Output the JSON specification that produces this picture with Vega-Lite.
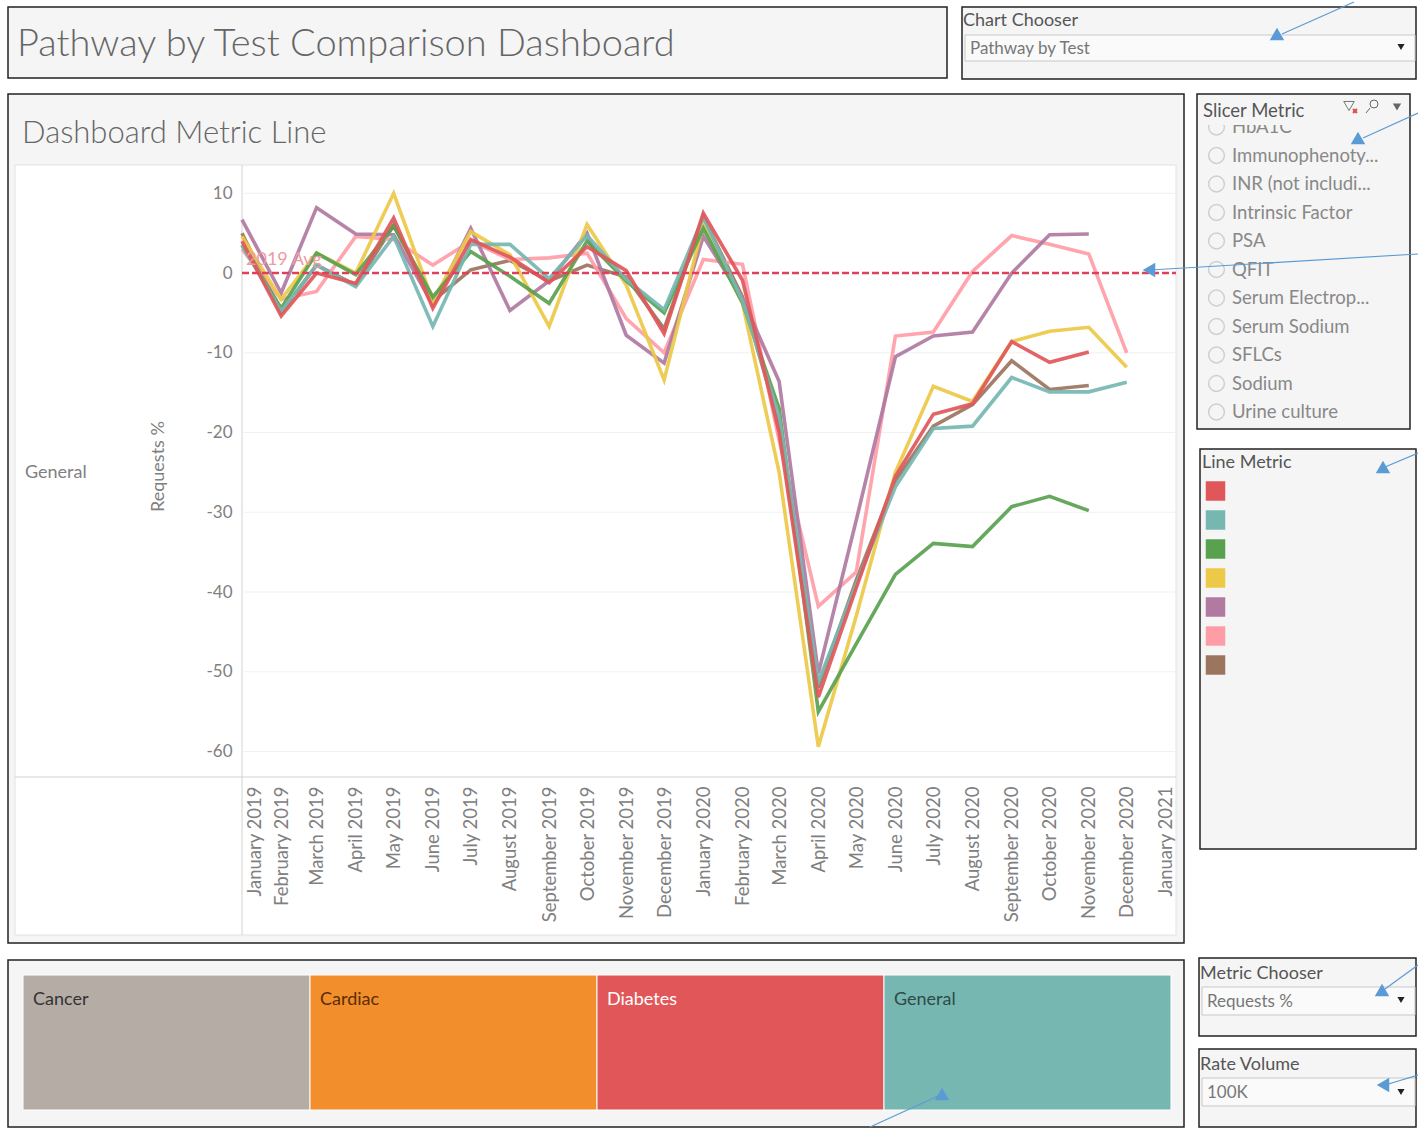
{
"$schema":"https://vega.github.io/schema/vega-lite/v6.json",
"padding":{"left":7,"top":0,"right":0,"bottom":0},
"background":"white",
"config":{"font":"Lato","text":{"align":"left","color":"#666666"},"view":{"fill":"#f5f5f5","stroke":"#222222","strokeWidth":1.5}},
"spacing":13,
"vconcat":[
{"spacing":13,"hconcat":[
 {"width":939,"height":71,"data":{"values":[{"label":"Pathway by Test Comparison Dashboard"}]},
  "mark":{"type":"text","fontSize":38,"fontWeight":300,"color":"#666666"},
  "encoding":{"x":{"datum":9,"axis":null,"scale":{"domain":[0,939],"nice":false}},"y":{"datum":38,"axis":null,"scale":{"domain":[71,0],"nice":false}},"text":{"field":"label"}}},
 {"width":454,"height":72,"data":{"values":[{}]},"layer":[
  {"mark":{"type":"rect","fill":"#fafafa","stroke":"#c8c8c8"},"encoding":{"x":{"datum":3,"axis":null,"scale":{"domain":[0,454],"nice":false}},"x2":{"datum":453},"y":{"datum":28,"axis":null,"scale":{"domain":[72,0],"nice":false}},"y2":{"datum":54}}},
  {"data":{"values":[{"label":"Chart Chooser"}]},"mark":{"type":"text","fontSize":18,"color":"#555555"},"encoding":{"x":{"datum":1,"axis":null},"y":{"datum":14,"axis":null},"text":{"field":"label"}}},
  {"data":{"values":[{"label":"Pathway by Test"}]},"mark":{"type":"text","fontSize":17,"color":"#777777"},"encoding":{"x":{"datum":8,"axis":null},"y":{"datum":42,"axis":null},"text":{"field":"label"}}},
  {"mark":{"type":"point","shape":"triangle-down","filled":true,"size":50,"color":"#222222","opacity":1},"encoding":{"x":{"datum":439,"axis":null},"y":{"datum":40,"axis":null}}},
  {"mark":{"type":"rule","color":"#5b9bd5","strokeWidth":1.2},"encoding":{"x":{"datum":392,"axis":null},"x2":{"datum":320},"y":{"datum":-5,"axis":null},"y2":{"datum":27}}},
  {"mark":{"type":"point","shape":"triangle-up","filled":true,"size":210,"color":"#5b9bd5","opacity":1},"encoding":{"x":{"datum":315,"axis":null},"y":{"datum":27,"axis":null}}}
 ]}
]},
{"spacing":-4,"hconcat":[
 {"width":1176,"height":849,"data":{"values":[{}]},
  "resolve":{"scale":{"x":"independent","y":"independent"}},
  "layer":[
  {"layer":[
   {"mark":{"type":"rect","fill":"white","stroke":"#e2e2e2"},"encoding":{"x":{"datum":7,"axis":null,"scale":{"domain":[0,1176],"nice":false}},"x2":{"datum":1168},"y":{"datum":71,"axis":null,"scale":{"domain":[849,0],"nice":false}},"y2":{"datum":841}}},
   {"mark":{"type":"rule","color":"#d2d2d2"},"encoding":{"x":{"datum":7,"axis":null},"x2":{"datum":1168},"y":{"datum":683,"axis":null}}},
   {"mark":{"type":"rule","color":"#d2d2d2"},"encoding":{"x":{"datum":234,"axis":null},"y":{"datum":71,"axis":null},"y2":{"datum":841}}},
   {"data":{"values":[{"label":"Dashboard Metric Line"}]},"mark":{"type":"text","fontSize":31,"fontWeight":300,"color":"#666666"},"encoding":{"x":{"datum":14,"axis":null},"y":{"datum":40,"axis":null},"text":{"field":"label"}}},
   {"data":{"values":[{"label":"General"}]},"mark":{"type":"text","fontSize":18,"color":"#808080"},"encoding":{"x":{"datum":17,"axis":null},"y":{"datum":379,"axis":null},"text":{"field":"label"}}}
  ]},
  {"resolve":{"axis":{"x":"independent","y":"independent"}},"layer":[
   {"data":{"values":[{"tick":10},{"tick":-10},{"tick":-20},{"tick":-30},{"tick":-40},{"tick":-50},{"tick":-60}]},
    "mark":{"type":"rule","color":"#f1f1f1"},
    "encoding":{"x":{"datum":{"year":2019,"month":1,"date":1},"type":"temporal","axis":null,"scale":{"domain":[{"year":2019,"month":1,"date":1},{"year":2021,"month":1,"date":9}],"range":[234,1168]}},"x2":{"datum":{"year":2021,"month":1,"date":9}},"y":{"field":"tick","type":"quantitative","axis":null,"scale":{"domain":[-63.2,13.55],"range":[683,71],"nice":false}}}},
   {"data":{"name":"series"},"mark":{"type":"line","strokeWidth":3.6,"opacity":0.92},
    "encoding":{
     "x":{"field":"month","type":"temporal","axis":{"orient":"bottom","offset":-166,"title":null,"grid":false,"domain":false,"ticks":false,"labelAngle":270,"labelAlign":"right","labelBaseline":"middle","labelPadding":9,"labelFontSize":18.5,"labelColor":"#808080","labelOverlap":false,"labelFlush":false,"labelBound":false,"format":"%B %Y","tickCount":{"interval":"month","step":1},"labelOffset":{"condition":{"test":"year(datum.value)==2019 && month(datum.value)==0","value":12},"value":0},"zindex":1}},
     "y":{"field":"pct","type":"quantitative","axis":{"orient":"left","offset":-234,"title":"Requests %","titleFontSize":18,"titleFontWeight":"normal","titleColor":"#808080","titleX":-75,"titleY":372,"grid":false,"domain":false,"ticks":false,"labelPadding":10,"labelFontSize":17,"labelColor":"#808080","labelExpr":"replace(datum.label,'−','-')","values":[10,0,-10,-20,-30,-40,-50,-60],"zindex":1}},
     "color":{"field":"metric","type":"nominal","legend":null,"sort":null,"scale":{"domain":["Red","Teal","Green","Yellow","Purple","Pink","Brown"],"range":["#e15759","#76b7b2","#59a14f","#edc948","#b07aa1","#ff9da7","#9c755f"]}}
    }},
   {"mark":{"type":"rule","color":"#e0405a","strokeWidth":2.5,"strokeDash":[7,3]},"encoding":{"x":{"datum":{"year":2019,"month":1,"date":1},"type":"temporal","axis":null},"x2":{"datum":{"year":2021,"month":1,"date":9}},"y":{"datum":0,"axis":null}}},
   {"data":{"values":[{"label":"2019 Avg"}]},"mark":{"type":"text","fontSize":18,"color":"#ee9aa4","dy":-13,"dx":4},"encoding":{"x":{"datum":{"year":2019,"month":1,"date":1},"type":"temporal","axis":null},"y":{"datum":0,"axis":null},"text":{"field":"label"}}}
  ]},
  {"layer":[
   {"mark":{"type":"rule","color":"#5b9bd5","strokeWidth":1.2},"encoding":{"x":{"datum":1142,"axis":null,"scale":{"domain":[0,1176],"nice":false}},"x2":{"datum":1176},"y":{"datum":176,"axis":null,"scale":{"domain":[849,0],"nice":false}},"y2":{"datum":174}}},
   {"mark":{"type":"point","shape":"triangle-left","filled":true,"size":210,"color":"#5b9bd5","opacity":1},"encoding":{"x":{"datum":1141,"axis":null},"y":{"datum":176,"axis":null}}}
  ]}
 ]},
 {"spacing":18,"vconcat":[
  {"width":213,"height":335,"data":{"values":[{}]},
   "resolve":{"scale":{"y":"independent"}},
   "layer":[
   {"data":{"values":[{"test":"HbA1C"},{"test":"Immunophenoty..."},{"test":"INR (not includi..."},{"test":"Intrinsic Factor"},{"test":"PSA"},{"test":"QFIT"},{"test":"Serum Electrop..."},{"test":"Serum Sodium"},{"test":"SFLCs"},{"test":"Sodium"},{"test":"Urine culture"}]},
    "layer":[
     {"mark":{"type":"point","filled":false,"size":250,"color":"#cfcfcf","strokeWidth":1.5,"opacity":1},"encoding":{"x":{"datum":19.5,"axis":null,"scale":{"domain":[0,213],"nice":false}},"y":{"field":"test","type":"ordinal","sort":null,"axis":null,"scale":{"type":"point","padding":0,"range":[33,318]}}}},
     {"mark":{"type":"text","fontSize":18.5,"color":"#888888"},"encoding":{"x":{"datum":35,"axis":null},"y":{"field":"test","type":"ordinal","sort":null,"axis":null},"text":{"field":"test"}}}
    ]},
   {"layer":[
     {"mark":{"type":"rect","fill":"#f5f5f5"},"encoding":{"x":{"datum":1,"axis":null},"x2":{"datum":212},"y":{"datum":1,"axis":null,"scale":{"domain":[335,0],"nice":false}},"y2":{"datum":31}}},
     {"data":{"values":[{"label":"Slicer Metric"}]},"mark":{"type":"text","fontSize":18.5,"color":"#555555"},"encoding":{"x":{"datum":6,"axis":null},"y":{"datum":17,"axis":null},"text":{"field":"label"}}},
     {"mark":{"type":"point","shape":"triangle-down","filled":false,"size":110,"color":"#777777","strokeWidth":1,"opacity":1},"encoding":{"x":{"datum":152,"axis":null},"y":{"datum":12,"axis":null}}},
     {"mark":{"type":"point","shape":"cross","filled":true,"angle":45,"size":30,"color":"#e0504a","opacity":1},"encoding":{"x":{"datum":158,"axis":null},"y":{"datum":17,"axis":null}}},
     {"mark":{"type":"point","filled":false,"size":64,"color":"#666666","strokeWidth":1,"opacity":1},"encoding":{"x":{"datum":177,"axis":null},"y":{"datum":10,"axis":null}}},
     {"mark":{"type":"rule","color":"#666666"},"encoding":{"x":{"datum":173,"axis":null},"x2":{"datum":169},"y":{"datum":14,"axis":null},"y2":{"datum":19}}},
     {"mark":{"type":"point","shape":"triangle-down","filled":true,"size":70,"color":"#666666","opacity":1},"encoding":{"x":{"datum":200,"axis":null},"y":{"datum":13,"axis":null}}},
     {"mark":{"type":"rule","color":"#5b9bd5","strokeWidth":1.2},"encoding":{"x":{"datum":221,"axis":null},"x2":{"datum":166},"y":{"datum":19,"axis":null},"y2":{"datum":44}}},
     {"mark":{"type":"point","shape":"triangle-up","filled":true,"size":210,"color":"#5b9bd5","opacity":1},"encoding":{"x":{"datum":161,"axis":null},"y":{"datum":44,"axis":null}}},
     {"mark":{"type":"rule","color":"#5b9bd5","strokeWidth":1.2},"encoding":{"x":{"datum":-13,"axis":null},"x2":{"datum":221},"y":{"datum":174,"axis":null},"y2":{"datum":160}}}
   ]}
  ]},
  {"spacing":1,"hconcat":[
   {"width":1,"height":400,"view":{"fill":null,"stroke":null},"data":{"values":[{}]},"mark":{"type":"rule","opacity":0},"encoding":{}},
   {"width":216,"height":400,"data":{"values":[{}]},
    "resolve":{"scale":{"y":"independent"}},
    "layer":[
    {"data":{"values":[{"metric":"Red"},{"metric":"Teal"},{"metric":"Green"},{"metric":"Yellow"},{"metric":"Purple"},{"metric":"Pink"},{"metric":"Brown"}]},
     "mark":{"type":"point","shape":"square","filled":true,"size":380,"opacity":1},
     "encoding":{"x":{"datum":15.5,"axis":null,"scale":{"domain":[0,216],"nice":false}},"y":{"field":"metric","type":"ordinal","sort":null,"axis":null,"scale":{"type":"point","padding":0,"range":[42,216]}},
      "color":{"field":"metric","type":"nominal","sort":null,"legend":null,"scale":{"domain":["Red","Teal","Green","Yellow","Purple","Pink","Brown"],"range":["#e15759","#76b7b2","#59a14f","#edc948","#b07aa1","#ff9da7","#9c755f"]}}}},
    {"layer":[
     {"data":{"values":[{"label":"Line Metric"}]},"mark":{"type":"text","fontSize":18,"color":"#555555"},"encoding":{"x":{"datum":2,"axis":null},"y":{"datum":14,"axis":null,"scale":{"domain":[400,0],"nice":false}},"text":{"field":"label"}}},
     {"mark":{"type":"rule","color":"#5b9bd5","strokeWidth":1.2},"encoding":{"x":{"datum":218,"axis":null},"x2":{"datum":185},"y":{"datum":4,"axis":null},"y2":{"datum":18}}},
     {"mark":{"type":"point","shape":"triangle-up","filled":true,"size":210,"color":"#5b9bd5","opacity":1},"encoding":{"x":{"datum":183,"axis":null},"y":{"datum":18,"axis":null}}}
    ]}
   ]}
  ]}
 ]}
]},
{"spacing":13,"hconcat":[
 {"spacing":0,"vconcat":[
  {"width":1176,"height":1,"view":{"fill":null,"stroke":null},"data":{"values":[{}]},"mark":{"type":"rule","opacity":0},"encoding":{}},
  {"width":1176,"height":167,
   "data":{"values":[{"pathway":"Cancer","share":25},{"pathway":"Cardiac","share":25},{"pathway":"Diabetes","share":25},{"pathway":"General","share":25}]},
   "transform":[{"stack":"share","groupby":[],"sort":[{"field":"pathway"}],"as":["start","end"]}],
   "resolve":{"scale":{"color":"independent","x":"independent","y":"independent"}},
   "layer":[
    {"layer":[
    {"mark":{"type":"rect","stroke":"white","strokeWidth":1},"encoding":{
      "x":{"field":"start","type":"quantitative","axis":null,"scale":{"domain":[0,100],"range":[15,1163],"nice":false}},"x2":{"field":"end"},
      "y":{"datum":15,"axis":null,"scale":{"domain":[167,0],"nice":false}},"y2":{"datum":150},
      "color":{"field":"pathway","type":"nominal","legend":null,"scale":{"domain":["Cancer","Cardiac","Diabetes","General"],"range":["#b6aca6","#f28e2b","#e15759","#76b7b2"]}}}},
    {"mark":{"type":"text","fontSize":18,"dx":10},"encoding":{
      "x":{"field":"start","type":"quantitative","axis":null},
      "y":{"datum":40,"axis":null},
      "text":{"field":"pathway"},
      "color":{"field":"pathway","type":"nominal","legend":null,"scale":{"domain":["Cancer","Cardiac","Diabetes","General"],"range":["#333333","#5a2d08","#ffffff","#2f4a48"]}}}}
    ],"resolve":{"scale":{"color":"independent"}}},
    {"data":{"values":[{}]},"layer":[
     {"mark":{"type":"rule","color":"#5b9bd5","strokeWidth":1.2},"encoding":{"x":{"datum":862,"axis":null,"scale":{"domain":[0,1176],"nice":false}},"x2":{"datum":930},"y":{"datum":167,"axis":null,"scale":{"domain":[167,0],"nice":false}},"y2":{"datum":136}}},
     {"mark":{"type":"point","shape":"triangle-up","filled":true,"size":210,"color":"#5b9bd5","opacity":1},"encoding":{"x":{"datum":934,"axis":null},"y":{"datum":134,"axis":null}}}
    ]}
   ]}
 ]},
 {"spacing":11,"vconcat":[
  {"width":217,"height":78,"data":{"values":[{}]},"layer":[
   {"mark":{"type":"rect","fill":"#fafafa","stroke":"#c8c8c8"},"encoding":{"x":{"datum":3,"axis":null,"scale":{"domain":[0,217],"nice":false}},"x2":{"datum":216},"y":{"datum":29,"axis":null,"scale":{"domain":[78,0],"nice":false}},"y2":{"datum":57}}},
   {"data":{"values":[{"label":"Metric Chooser"}]},"mark":{"type":"text","fontSize":18,"color":"#555555"},"encoding":{"x":{"datum":1,"axis":null},"y":{"datum":16,"axis":null},"text":{"field":"label"}}},
   {"data":{"values":[{"label":"Requests %"}]},"mark":{"type":"text","fontSize":17,"color":"#777777"},"encoding":{"x":{"datum":8,"axis":null},"y":{"datum":44,"axis":null},"text":{"field":"label"}}},
   {"mark":{"type":"point","shape":"triangle-down","filled":true,"size":50,"color":"#222222","opacity":1},"encoding":{"x":{"datum":202,"axis":null},"y":{"datum":42,"axis":null}}},
   {"mark":{"type":"rule","color":"#5b9bd5","strokeWidth":1.2},"encoding":{"x":{"datum":219,"axis":null},"x2":{"datum":186},"y":{"datum":7,"axis":null},"y2":{"datum":31}}},
   {"mark":{"type":"point","shape":"triangle-up","filled":true,"size":210,"color":"#5b9bd5","opacity":1},"encoding":{"x":{"datum":183,"axis":null},"y":{"datum":32,"axis":null}}}
  ]},
  {"width":217,"height":78,"data":{"values":[{}]},"layer":[
   {"mark":{"type":"rect","fill":"#fafafa","stroke":"#c8c8c8"},"encoding":{"x":{"datum":3,"axis":null,"scale":{"domain":[0,217],"nice":false}},"x2":{"datum":216},"y":{"datum":29,"axis":null,"scale":{"domain":[78,0],"nice":false}},"y2":{"datum":57}}},
   {"data":{"values":[{"label":"Rate Volume"}]},"mark":{"type":"text","fontSize":18,"color":"#555555"},"encoding":{"x":{"datum":1,"axis":null},"y":{"datum":16,"axis":null},"text":{"field":"label"}}},
   {"data":{"values":[{"label":"100K"}]},"mark":{"type":"text","fontSize":17,"color":"#777777"},"encoding":{"x":{"datum":8,"axis":null},"y":{"datum":44,"axis":null},"text":{"field":"label"}}},
   {"mark":{"type":"point","shape":"triangle-down","filled":true,"size":50,"color":"#222222","opacity":1},"encoding":{"x":{"datum":202,"axis":null},"y":{"datum":43,"axis":null}}},
   {"mark":{"type":"rule","color":"#5b9bd5","strokeWidth":1.2},"encoding":{"x":{"datum":219,"axis":null},"x2":{"datum":186},"y":{"datum":26,"axis":null},"y2":{"datum":36}}},
   {"mark":{"type":"point","shape":"triangle-left","filled":true,"size":210,"color":"#5b9bd5","opacity":1},"encoding":{"x":{"datum":184,"axis":null},"y":{"datum":36,"axis":null}}}
  ]}
 ]}
]}
],
"datasets":{"series":[
{"month":"2019-01-01T00:00:00","metric":"Brown","pct":5},{"month":"2019-02-01T00:00:00","metric":"Brown","pct":-5},{"month":"2019-03-01T00:00:00","metric":"Brown","pct":1},{"month":"2019-04-01T00:00:00","metric":"Brown","pct":-1.5},{"month":"2019-05-01T00:00:00","metric":"Brown","pct":6},{"month":"2019-06-01T00:00:00","metric":"Brown","pct":-3.5},{"month":"2019-07-01T00:00:00","metric":"Brown","pct":0.4},{"month":"2019-08-01T00:00:00","metric":"Brown","pct":1.6},{"month":"2019-09-01T00:00:00","metric":"Brown","pct":-1},{"month":"2019-10-01T00:00:00","metric":"Brown","pct":1},{"month":"2019-11-01T00:00:00","metric":"Brown","pct":-0.5},{"month":"2019-12-01T00:00:00","metric":"Brown","pct":-7},{"month":"2020-01-01T00:00:00","metric":"Brown","pct":7},{"month":"2020-02-01T00:00:00","metric":"Brown","pct":-3},{"month":"2020-03-01T00:00:00","metric":"Brown","pct":-19},{"month":"2020-04-01T00:00:00","metric":"Brown","pct":-52},{"month":"2020-05-01T00:00:00","metric":"Brown","pct":-38.5},{"month":"2020-06-01T00:00:00","metric":"Brown","pct":-26},{"month":"2020-07-01T00:00:00","metric":"Brown","pct":-19.2},{"month":"2020-08-01T00:00:00","metric":"Brown","pct":-16.5},{"month":"2020-09-01T00:00:00","metric":"Brown","pct":-11},{"month":"2020-10-01T00:00:00","metric":"Brown","pct":-14.6},{"month":"2020-11-01T00:00:00","metric":"Brown","pct":-14.1},
{"month":"2019-01-01T00:00:00","metric":"Pink","pct":3},{"month":"2019-02-01T00:00:00","metric":"Pink","pct":-3.3},{"month":"2019-03-01T00:00:00","metric":"Pink","pct":-2.3},{"month":"2019-04-01T00:00:00","metric":"Pink","pct":4.6},{"month":"2019-05-01T00:00:00","metric":"Pink","pct":4.2},{"month":"2019-06-01T00:00:00","metric":"Pink","pct":1},{"month":"2019-07-01T00:00:00","metric":"Pink","pct":4},{"month":"2019-08-01T00:00:00","metric":"Pink","pct":1.7},{"month":"2019-09-01T00:00:00","metric":"Pink","pct":1.9},{"month":"2019-10-01T00:00:00","metric":"Pink","pct":2.5},{"month":"2019-11-01T00:00:00","metric":"Pink","pct":-5.7},{"month":"2019-12-01T00:00:00","metric":"Pink","pct":-10},{"month":"2020-01-01T00:00:00","metric":"Pink","pct":1.7},{"month":"2020-02-01T00:00:00","metric":"Pink","pct":1.1},{"month":"2020-03-01T00:00:00","metric":"Pink","pct":-21},{"month":"2020-04-01T00:00:00","metric":"Pink","pct":-41.8},{"month":"2020-05-01T00:00:00","metric":"Pink","pct":-37.5},{"month":"2020-06-01T00:00:00","metric":"Pink","pct":-7.9},{"month":"2020-07-01T00:00:00","metric":"Pink","pct":-7.4},{"month":"2020-08-01T00:00:00","metric":"Pink","pct":0.2},{"month":"2020-09-01T00:00:00","metric":"Pink","pct":4.7},{"month":"2020-10-01T00:00:00","metric":"Pink","pct":3.6},{"month":"2020-11-01T00:00:00","metric":"Pink","pct":2.4},{"month":"2020-12-01T00:00:00","metric":"Pink","pct":-10},
{"month":"2019-01-01T00:00:00","metric":"Purple","pct":6.7},{"month":"2019-02-01T00:00:00","metric":"Purple","pct":-2.5},{"month":"2019-03-01T00:00:00","metric":"Purple","pct":8.2},{"month":"2019-04-01T00:00:00","metric":"Purple","pct":4.9},{"month":"2019-05-01T00:00:00","metric":"Purple","pct":4.8},{"month":"2019-06-01T00:00:00","metric":"Purple","pct":-4},{"month":"2019-07-01T00:00:00","metric":"Purple","pct":5.6},{"month":"2019-08-01T00:00:00","metric":"Purple","pct":-4.7},{"month":"2019-09-01T00:00:00","metric":"Purple","pct":-1},{"month":"2019-10-01T00:00:00","metric":"Purple","pct":5},{"month":"2019-11-01T00:00:00","metric":"Purple","pct":-7.8},{"month":"2019-12-01T00:00:00","metric":"Purple","pct":-11.3},{"month":"2020-01-01T00:00:00","metric":"Purple","pct":4.6},{"month":"2020-02-01T00:00:00","metric":"Purple","pct":-3.2},{"month":"2020-03-01T00:00:00","metric":"Purple","pct":-13.6},{"month":"2020-04-01T00:00:00","metric":"Purple","pct":-50.2},{"month":"2020-05-01T00:00:00","metric":"Purple","pct":-31},{"month":"2020-06-01T00:00:00","metric":"Purple","pct":-10.5},{"month":"2020-07-01T00:00:00","metric":"Purple","pct":-7.9},{"month":"2020-08-01T00:00:00","metric":"Purple","pct":-7.4},{"month":"2020-09-01T00:00:00","metric":"Purple","pct":0},{"month":"2020-10-01T00:00:00","metric":"Purple","pct":4.8},{"month":"2020-11-01T00:00:00","metric":"Purple","pct":4.9},
{"month":"2019-01-01T00:00:00","metric":"Yellow","pct":4.6},{"month":"2019-02-01T00:00:00","metric":"Yellow","pct":-3.3},{"month":"2019-03-01T00:00:00","metric":"Yellow","pct":2.5},{"month":"2019-04-01T00:00:00","metric":"Yellow","pct":0},{"month":"2019-05-01T00:00:00","metric":"Yellow","pct":10},{"month":"2019-06-01T00:00:00","metric":"Yellow","pct":-3.5},{"month":"2019-07-01T00:00:00","metric":"Yellow","pct":5.2},{"month":"2019-08-01T00:00:00","metric":"Yellow","pct":2.3},{"month":"2019-09-01T00:00:00","metric":"Yellow","pct":-6.7},{"month":"2019-10-01T00:00:00","metric":"Yellow","pct":6.1},{"month":"2019-11-01T00:00:00","metric":"Yellow","pct":-1.5},{"month":"2019-12-01T00:00:00","metric":"Yellow","pct":-13.4},{"month":"2020-01-01T00:00:00","metric":"Yellow","pct":6.2},{"month":"2020-02-01T00:00:00","metric":"Yellow","pct":-3.8},{"month":"2020-03-01T00:00:00","metric":"Yellow","pct":-25},{"month":"2020-04-01T00:00:00","metric":"Yellow","pct":-59.4},{"month":"2020-05-01T00:00:00","metric":"Yellow","pct":-43},{"month":"2020-06-01T00:00:00","metric":"Yellow","pct":-25},{"month":"2020-07-01T00:00:00","metric":"Yellow","pct":-14.2},{"month":"2020-08-01T00:00:00","metric":"Yellow","pct":-16.1},{"month":"2020-09-01T00:00:00","metric":"Yellow","pct":-8.6},{"month":"2020-10-01T00:00:00","metric":"Yellow","pct":-7.3},{"month":"2020-11-01T00:00:00","metric":"Yellow","pct":-6.8},{"month":"2020-12-01T00:00:00","metric":"Yellow","pct":-11.8},
{"month":"2019-01-01T00:00:00","metric":"Green","pct":3.5},{"month":"2019-02-01T00:00:00","metric":"Green","pct":-4.4},{"month":"2019-03-01T00:00:00","metric":"Green","pct":2.5},{"month":"2019-04-01T00:00:00","metric":"Green","pct":-0.2},{"month":"2019-05-01T00:00:00","metric":"Green","pct":5.9},{"month":"2019-06-01T00:00:00","metric":"Green","pct":-3},{"month":"2019-07-01T00:00:00","metric":"Green","pct":2.7},{"month":"2019-08-01T00:00:00","metric":"Green","pct":-0.4},{"month":"2019-09-01T00:00:00","metric":"Green","pct":-3.8},{"month":"2019-10-01T00:00:00","metric":"Green","pct":4},{"month":"2019-11-01T00:00:00","metric":"Green","pct":-1},{"month":"2019-12-01T00:00:00","metric":"Green","pct":-5},{"month":"2020-01-01T00:00:00","metric":"Green","pct":5.6},{"month":"2020-02-01T00:00:00","metric":"Green","pct":-3.7},{"month":"2020-03-01T00:00:00","metric":"Green","pct":-17},{"month":"2020-04-01T00:00:00","metric":"Green","pct":-55},{"month":"2020-05-01T00:00:00","metric":"Green","pct":-46.5},{"month":"2020-06-01T00:00:00","metric":"Green","pct":-37.8},{"month":"2020-07-01T00:00:00","metric":"Green","pct":-33.9},{"month":"2020-08-01T00:00:00","metric":"Green","pct":-34.3},{"month":"2020-09-01T00:00:00","metric":"Green","pct":-29.3},{"month":"2020-10-01T00:00:00","metric":"Green","pct":-28},{"month":"2020-11-01T00:00:00","metric":"Green","pct":-29.8},
{"month":"2019-01-01T00:00:00","metric":"Teal","pct":3.5},{"month":"2019-02-01T00:00:00","metric":"Teal","pct":-4.8},{"month":"2019-03-01T00:00:00","metric":"Teal","pct":1},{"month":"2019-04-01T00:00:00","metric":"Teal","pct":-1.7},{"month":"2019-05-01T00:00:00","metric":"Teal","pct":4.6},{"month":"2019-06-01T00:00:00","metric":"Teal","pct":-6.7},{"month":"2019-07-01T00:00:00","metric":"Teal","pct":3.6},{"month":"2019-08-01T00:00:00","metric":"Teal","pct":3.6},{"month":"2019-09-01T00:00:00","metric":"Teal","pct":-0.7},{"month":"2019-10-01T00:00:00","metric":"Teal","pct":4.7},{"month":"2019-11-01T00:00:00","metric":"Teal","pct":-0.8},{"month":"2019-12-01T00:00:00","metric":"Teal","pct":-4.6},{"month":"2020-01-01T00:00:00","metric":"Teal","pct":7},{"month":"2020-02-01T00:00:00","metric":"Teal","pct":-3.5},{"month":"2020-03-01T00:00:00","metric":"Teal","pct":-18},{"month":"2020-04-01T00:00:00","metric":"Teal","pct":-51.3},{"month":"2020-05-01T00:00:00","metric":"Teal","pct":-39},{"month":"2020-06-01T00:00:00","metric":"Teal","pct":-26.8},{"month":"2020-07-01T00:00:00","metric":"Teal","pct":-19.5},{"month":"2020-08-01T00:00:00","metric":"Teal","pct":-19.2},{"month":"2020-09-01T00:00:00","metric":"Teal","pct":-13.1},{"month":"2020-10-01T00:00:00","metric":"Teal","pct":-14.9},{"month":"2020-11-01T00:00:00","metric":"Teal","pct":-14.9},{"month":"2020-12-01T00:00:00","metric":"Teal","pct":-13.7},
{"month":"2019-01-01T00:00:00","metric":"Red","pct":4},{"month":"2019-02-01T00:00:00","metric":"Red","pct":-5.4},{"month":"2019-03-01T00:00:00","metric":"Red","pct":0},{"month":"2019-04-01T00:00:00","metric":"Red","pct":-1.3},{"month":"2019-05-01T00:00:00","metric":"Red","pct":6.9},{"month":"2019-06-01T00:00:00","metric":"Red","pct":-4.4},{"month":"2019-07-01T00:00:00","metric":"Red","pct":4.2},{"month":"2019-08-01T00:00:00","metric":"Red","pct":2},{"month":"2019-09-01T00:00:00","metric":"Red","pct":-1.2},{"month":"2019-10-01T00:00:00","metric":"Red","pct":3.3},{"month":"2019-11-01T00:00:00","metric":"Red","pct":0.3},{"month":"2019-12-01T00:00:00","metric":"Red","pct":-7.6},{"month":"2020-01-01T00:00:00","metric":"Red","pct":7.5},{"month":"2020-02-01T00:00:00","metric":"Red","pct":-0.9},{"month":"2020-03-01T00:00:00","metric":"Red","pct":-20},{"month":"2020-04-01T00:00:00","metric":"Red","pct":-53.2},{"month":"2020-05-01T00:00:00","metric":"Red","pct":-39.5},{"month":"2020-06-01T00:00:00","metric":"Red","pct":-25.5},{"month":"2020-07-01T00:00:00","metric":"Red","pct":-17.7},{"month":"2020-08-01T00:00:00","metric":"Red","pct":-16.4},{"month":"2020-09-01T00:00:00","metric":"Red","pct":-8.6},{"month":"2020-10-01T00:00:00","metric":"Red","pct":-11.2},{"month":"2020-11-01T00:00:00","metric":"Red","pct":-9.9}
]}
}
